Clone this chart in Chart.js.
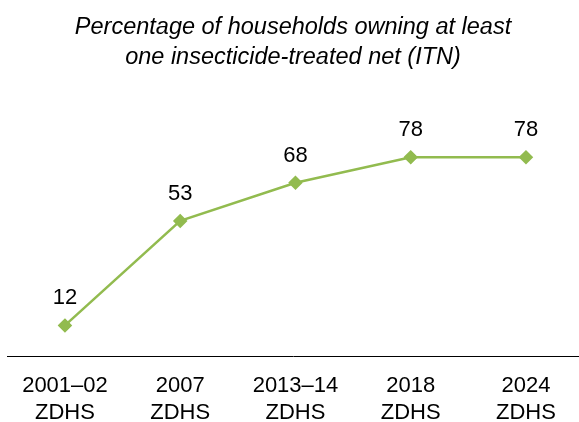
<!DOCTYPE html>
<html>
<head>
<meta charset="utf-8">
<script src="https://cdn.jsdelivr.net/npm/chart.js@4"></script>
<style>
  html, body { margin: 0; padding: 0; background: #fff; }
  #wrap { width: 579px; height: 422px; }
</style>
</head>
<body>
<div id="wrap"><canvas id="itnChart" width="579" height="422"></canvas></div>
<script>
// 調査ごとのITN保有世帯割合
const surveys = [["2001–02", "ZDHS"], ["2007", "ZDHS"], ["2013–14", "ZDHS"], ["2018", "ZDHS"], ["2024", "ZDHS"]];
const itnShare = [12, 53, 68, 78, 78];

const lineGreen = "#92bb4f";
const fontFamily = "'Liberation Sans', Arial, sans-serif";

// 各点の上に値を表示するプラグイン
const pointLabels = {
  id: "pointLabels",
  afterDatasetsDraw(chart) {
    const ctx = chart.ctx;
    const meta = chart.getDatasetMeta(0);
    ctx.save();
    ctx.font = "22px " + fontFamily;
    ctx.fillStyle = "#000";
    ctx.textAlign = "center";
    ctx.textBaseline = "middle";
    meta.data.forEach((pt, i) => {
      ctx.fillText(String(itnShare[i]), pt.x, pt.y - 27);
    });
    ctx.restore();
  },
};

const ctx = document.getElementById("itnChart").getContext("2d");
new Chart(ctx, {
  type: "line",
  data: {
    datasets: [
      {
        data: itnShare.map((v, i) => ({ x: i, y: v })),
        borderColor: lineGreen,
        backgroundColor: lineGreen,
        borderWidth: 2.5,
        pointStyle: "rectRot",
        pointRadius: 5.5,
        pointHoverRadius: 5.5,
        tension: 0,
      },
    ],
  },
  options: {
    responsive: false,
    animation: false,
    layout: { autoPadding: false, padding: { left: 7, right: 0, top: 0, bottom: 0 } },
    plugins: {
      legend: { display: false },
      tooltip: { enabled: false },
      title: {
        display: true,
        text: ["Percentage of households owning at least", "one insecticide-treated net (ITN)"],
        color: "#000",
        font: { family: fontFamily, size: 23.5, style: "italic", weight: "normal", lineHeight: 1.28 },
        padding: { top: 12, bottom: 29 },
      },
    },
    scales: {
      x: {
        type: "linear",
        min: -0.503,
        max: 4.46,
        grid: { display: false, drawTicks: false },
        border: { display: true, color: "#000", width: 1 },
        afterBuildTicks(scale) {
          scale.ticks = surveys.map((_, i) => ({ value: i }));
        },
        afterFit(scale) {
          scale.height = 66; // 軸線の位置を固定
        },
        ticks: {
          color: "#000",
          padding: 16,
          maxRotation: 0,
          autoSkip: false,
          font: { family: fontFamily, size: 22, lineHeight: 1.23 },
          callback: (v) => surveys[v],
        },
      },
      y: {
        display: false,
        min: 0,
        max: 100,
      },
    },
  },
  plugins: [pointLabels],
});
</script>
</body>
</html>
